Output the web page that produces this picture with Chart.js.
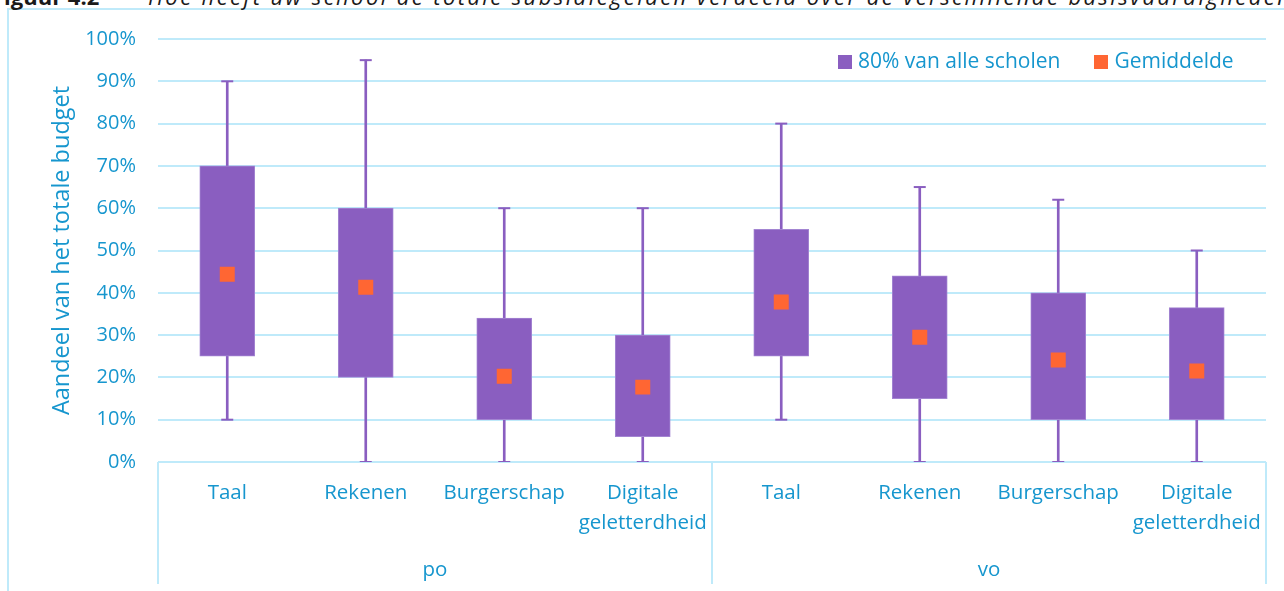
<!DOCTYPE html>
<html>
<head>
<meta charset="utf-8">
<script src="https://cdn.jsdelivr.net/npm/chart.js@4/dist/chart.umd.min.js"></script>
<style>
  html, body { margin: 0; padding: 0; background: #ffffff; overflow: hidden; }
  #wrap { position: relative; width: 1284px; height: 591px; overflow: hidden; }
  #frame { position: absolute; left: 7px; top: 8px; width: 1400px; height: 700px;
           border-left: 2px solid #BFEAFA; border-top: 2px solid #BFEAFA; }
  #title { position: absolute; left: -8px; top: -19px; white-space: nowrap;
           font-family: 'Open Sans', sans-serif; font-size: 22px; color: #1a1a1a; }
  #title b { display: inline-block; width: 156px; }
  #title i { letter-spacing: 2.4px; }
  canvas { position: absolute; left: 0; top: 0; }
  #legend { position: absolute; top: 46px; left: 838px; font-family: 'Open Sans', sans-serif;
            font-size: 21px; color: #1696CE; white-space: nowrap; }
  #legend span.sw { display: inline-block; width: 14px; height: 14px; vertical-align: -1px; margin-right: 6px; }
  #legend span.item { display: inline-block; margin-right: 34px; }
</style>
</head>
<body>
<div id="wrap">
  <div id="frame"></div>
  <div id="title"><b>Figuur&nbsp;4.2</b><i>Hoe heeft uw school de totale subsidiegelden verdeeld over de verschillende basisvaardigheden</i></div>
  <canvas id="c" width="1284" height="591"></canvas>
  <div id="legend"></div>
</div>
<script>
// ---- data ----
const categories = [["Taal"], ["Rekenen"], ["Burgerschap"], ["Digitale", "geletterdheid"],
                    ["Taal"], ["Rekenen"], ["Burgerschap"], ["Digitale", "geletterdheid"]];
const groups = ["po", "vo"];
const whiskerLow  = [10, 0, 0, 0, 10, 0, 0, 0];
const whiskerHigh = [90, 95, 60, 60, 80, 65, 62, 50];
const boxLow      = [25, 20, 10, 6, 25, 15, 10, 10];
const boxHigh     = [70, 60, 34, 30, 55, 44, 40, 36.5];
const means       = [44.4, 41.3, 20.3, 17.7, 37.8, 29.5, 24.1, 21.5];
const yTickValues = [0, 10, 20, 30, 40, 50, 60, 70, 80, 90, 100];
const seriesNames = ["80% van alle scholen", "Gemiddelde"];
const yTitle = "Aandeel van het totale budget";

// ---- style ----
const PURPLE = '#8A5EC0';
const ORANGE = '#FF6633';
const TEXT = '#1696CE';
const GRID = '#BFEAFA';
const FONT = "'Open Sans', sans-serif";

Chart.defaults.font.family = FONT;
Chart.defaults.color = TEXT;

const separators = {
  id: 'separators',
  afterDraw(chart) {
    const x = chart.scales.x, x2 = chart.scales.x2, ca = chart.chartArea;
    const half = (x.getPixelForValue(1) - x.getPixelForValue(0)) / 2;
    const xs = [x.getPixelForValue(0) - half, x.getPixelForValue(3) + half, x.getPixelForValue(7) + half];
    const ctx = chart.ctx;
    ctx.save();
    ctx.strokeStyle = GRID;
    ctx.lineWidth = 2;
    xs.forEach(px => {
      ctx.beginPath();
      ctx.moveTo(Math.round(px), ca.bottom);
      ctx.lineTo(Math.round(px), x2.bottom - 7);
      ctx.stroke();
    });
    ctx.restore();
  }
};

new Chart(document.getElementById('c'), {
  type: 'bar',
  data: {
    labels: categories,
    datasets: [
      { type: 'line', label: seriesNames[1], data: means, showLine: false, pointStyle: 'rect',
        pointRadius: 10.6, pointHoverRadius: 10.6, pointBackgroundColor: ORANGE, pointBorderWidth: 0,
        backgroundColor: ORANGE, borderColor: ORANGE, order: 0 },
      { type: 'line', label: 'capLow', data: whiskerLow, showLine: false, pointStyle: 'line',
        pointRadius: 6, pointHoverRadius: 6, pointBorderColor: PURPLE, pointBorderWidth: 2, borderColor: PURPLE, order: 1 },
      { type: 'line', label: 'capHigh', data: whiskerHigh, showLine: false, pointStyle: 'line',
        pointRadius: 6, pointHoverRadius: 6, pointBorderColor: PURPLE, pointBorderWidth: 2, borderColor: PURPLE, order: 1 },
      { type: 'bar', label: seriesNames[0], data: boxLow.map((v, i) => [v, boxHigh[i]]),
        backgroundColor: PURPLE, borderColor: '#A385D2', borderWidth: 1, borderSkipped: false,
        barThickness: 55, grouped: false, order: 2 },
      { type: 'bar', label: 'whisker', data: whiskerLow.map((v, i) => [v, whiskerHigh[i]]),
        backgroundColor: PURPLE, borderWidth: 0, barThickness: 2, grouped: false, order: 3 }
    ]
  },
  options: {
    responsive: false,
    animation: false,
    layout: { padding: { left: 0, right: 18, top: 39, bottom: 0 } },
    plugins: { legend: { display: false }, tooltip: { enabled: false } },
    scales: {
      x: {
        type: 'category', offset: true, position: 'bottom', weight: 0,
        grid: { display: false, drawTicks: false, tickLength: 0 },
        border: { display: false },
        ticks: { color: TEXT, font: { size: 20.5, lineHeight: 1.47 }, padding: 16, maxRotation: 0, autoSkip: false },
        afterFit(s) { s.height = 80; }
      },
      x2: {
        type: 'category', labels: groups, offset: true, position: 'bottom', weight: 1,
        grid: { display: false, drawTicks: false, tickLength: 0 },
        border: { display: false },
        ticks: { color: TEXT, font: { size: 20.5, lineHeight: 1.47 }, padding: 13, maxRotation: 0 },
        afterFit(s) { s.height = 49; }
      },
      y: {
        min: 0, max: 100,
        afterBuildTicks(s) { s.ticks = yTickValues.map(v => ({ value: v })); },
        grid: { color: GRID, lineWidth: 2, drawTicks: false, tickLength: 0 },
        border: { display: false },
        ticks: { color: TEXT, font: { size: 20 }, padding: 22, callback: v => v + '%' },
        title: { display: true, text: yTitle, color: TEXT, font: { size: 23.5, lineHeight: 1.2 }, padding: { top: 48, bottom: 0 } },
        afterFit(s) { s.width = 158; }
      }
    }
  },
  plugins: [separators]
});

// HTML legend built from series names
const leg = document.getElementById('legend');
[[seriesNames[0], PURPLE], [seriesNames[1], ORANGE]].forEach(([name, col]) => {
  const item = document.createElement('span');
  item.className = 'item';
  const sw = document.createElement('span');
  sw.className = 'sw';
  sw.style.background = col;
  item.appendChild(sw);
  item.appendChild(document.createTextNode(name));
  leg.appendChild(item);
});
</script>
</body>
</html>
